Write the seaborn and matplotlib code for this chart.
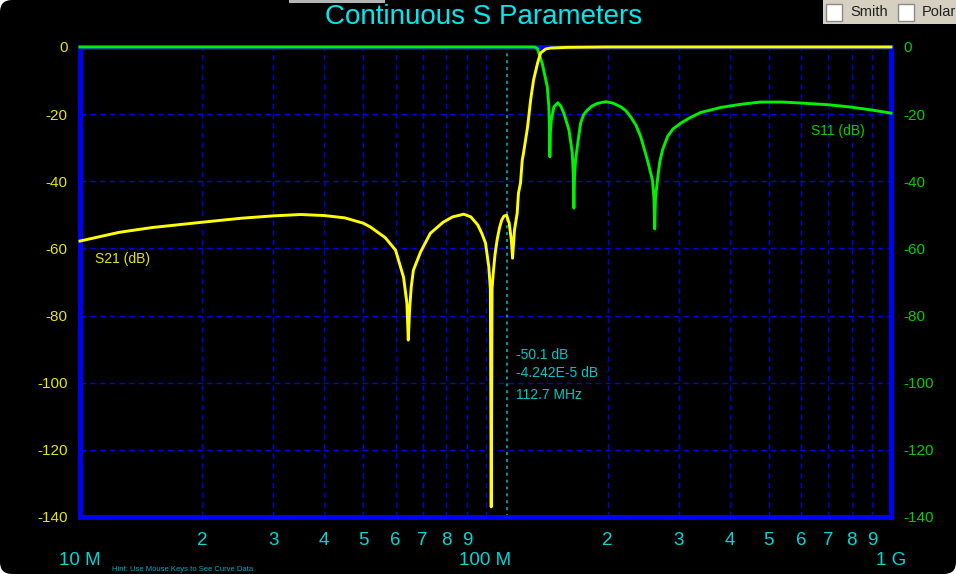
import numpy as np
import pandas as pd
import seaborn as sns
import matplotlib.pyplot as plt
from matplotlib.patches import FancyBboxPatch, Rectangle
from matplotlib.transforms import IdentityTransform

plt.rcParams['font.family'] = ['Liberation Sans', 'DejaVu Sans']
plt.rcParams['axes.unicode_minus'] = False

# colours of the old analyser screen
clr_s21 = '#ffff00'
clr_s11 = '#00f000'
clr_frame = '#0000ff'
clr_cyan = '#00d8d8'

############
# DATA (frequency in MHz, level in dB)
############
s21_freq = [10, 12.5, 15, 20, 25, 30, 35, 40, 45, 50, 52, 56.6, 60, 62.8, 64.0, 64.5, 65.0, 65.6,
            66.4, 69.2, 73.1, 78.6, 83, 88.4, 92, 95.7, 98, 100, 101.9, 102.8, 103.3, 103.8, 104.5,
            105.5, 106.8, 108.2, 109.6, 111, 112.7, 114.4, 115.8, 116.6, 117.9, 119.7, 120.6, 122.0,
            123.2, 124.1, 127.0, 129.2, 131.4, 134.4, 136.7, 140.7, 144.7, 160, 200, 1000]
s21_db = [-57.8, -55.2, -53.8, -52.2, -51.0, -50.3, -49.9, -50.2, -50.9, -52.5, -53.6, -56.8, -60.5,
          -68.6, -76.3, -87.3, -78.0, -71.5, -66.5, -61.0, -55.5, -52.2, -50.6, -49.8, -50.6, -53.0,
          -55.6, -58.4, -65.5, -72.0, -137.0, -72.0, -67.4, -62.0, -57.5, -54.0, -51.6, -50.4, -50.1,
          -52.5, -57.5, -62.9, -54.5, -49.5, -43.5, -40.5, -33.7, -31.6, -23.8, -15.8, -9.8, -4.8,
          -1.8, -0.6, -0.3, -0.1, 0.0, 0.0]

s11_freq = [10, 130, 132.5, 134.2, 138.0, 142.0, 143.3, 143.8, 144.1, 144.6, 145.3, 147.5, 150.8,
            153.5, 156.1, 160.6, 163.7, 164.6, 165.2, 165.8, 166.8, 168.4, 171.6, 174.5, 178.3,
            183, 188.7, 197.9, 206, 215.4, 222, 228.0, 235, 241.4, 250.8, 258.0, 260.3, 261.4,
            262.5, 265.5, 269, 273.2, 281.1, 290, 303.0, 320, 339.5, 380.4, 430, 477.5, 540,
            599.5, 700, 796.5, 900, 1000]
s11_db = [0, 0, -0.05, -0.4, -4.9, -11.8, -17.8, -24.0, -32.7, -25.0, -21.8, -17.8, -16.6, -17.7,
          -19.8, -24.7, -31.6, -38.0, -48.0, -38.0, -33.7, -29.7, -22.7, -20.2, -18.8, -17.6,
          -16.8, -16.3, -16.7, -17.8, -19.0, -20.8, -23.3, -26.7, -33.7, -39.6, -45.0, -54.2,
          -45.0, -39.6, -34.2, -30.7, -26.7, -24.4, -22.7, -21.0, -19.5, -18.0, -17.0, -16.4,
          -16.4, -16.7, -17.2, -17.9, -18.8, -19.7]

x_major = [10, 100, 1000]
x_major_labels = ['10 M', '100 M', '1 G']
x_minor = [m * d for d in (10, 100) for m in range(2, 10)]
x_minor_labels = [str(m) for d in (10, 100) for m in range(2, 10)]
y_ticks = list(range(-140, 1, 20))

cursor_mhz = 112.7
cursor_lines = ['-50.1 dB', '-4.242E-5 dB', '112.7 MHz']

W, H = 956, 574
def fx(px):
    return px / W
def fy(py):
    return 1 - py / H

############
# FIGURE
############
fig = plt.figure(figsize=(W / 100, H / 100), dpi=100, facecolor='white')
fig.add_artist(FancyBboxPatch((0, 0), W, H, boxstyle='round,pad=0,rounding_size=12',
                              transform=IdentityTransform(), facecolor='black',
                              edgecolor='none', zorder=-10))

ax = fig.add_axes([fx(80), 57 / H, 811 / W, 470 / H])
ax.set_facecolor('black')

s21 = pd.DataFrame({'freq': s21_freq, 'db': s21_db})
s11 = pd.DataFrame({'freq': s11_freq, 'db': s11_db})
sns.lineplot(data=s11, x='freq', y='db', ax=ax, color=clr_s11, linewidth=2.1,
             estimator=None, sort=False, clip_on=False, zorder=4)
sns.lineplot(data=s21, x='freq', y='db', ax=ax, color=clr_s21, linewidth=2.1,
             estimator=None, sort=False, clip_on=False, zorder=5)

ax.axvline(cursor_mhz, color='#00c0c0', linestyle=(0, (2, 2.5)), linewidth=1.1, zorder=3)

ax.set_xscale('log')
ax.set_xlim(10, 1000)
ax.set_ylim(-140, 0)
ax.set_xlabel('')
ax.set_ylabel('')

ax.set_xticks(x_major)
ax.set_xticklabels(x_major_labels)
ax.set_xticks(x_minor, minor=True)
ax.set_xticklabels(x_minor_labels, minor=True)
ax.tick_params(axis='x', which='major', length=0, pad=25, labelsize=13.5, labelcolor=clr_cyan)
ax.tick_params(axis='x', which='minor', length=0, pad=11, labelsize=13.5, labelcolor=clr_cyan)
ax.set_yticks(y_ticks)
ax.tick_params(axis='y', length=0, pad=9, labelsize=11, labelcolor='#e6e600')

ax.grid(True, which='both', axis='x', color='#0000e8', linestyle=(0, (4, 3)), linewidth=1)
ax.grid(True, which='major', axis='y', color='#0000e8', linestyle=(0, (4, 3)), linewidth=1)
for s in ax.spines.values():
    s.set_color(clr_frame)
    s.set_linewidth(3.5)
    s.set_zorder(3.5)

ax2 = ax.twinx()
ax2.set_ylim(-140, 0)
ax2.set_yticks(y_ticks)
ax2.tick_params(axis='y', length=0, pad=9, labelsize=11, labelcolor='#00d000')
for s in ax2.spines.values():
    s.set_visible(False)

############
# TEXTS
############
fig.text(fx(484), fy(17), 'Continuous S Parameters', ha='center', va='center',
         fontsize=20, color='#00e8f0')
fig.text(fx(95), fy(259), 'S21 (dB)', ha='left', va='center', fontsize=10, color='#e6e600')
fig.text(fx(811), fy(131), 'S11 (dB)', ha='left', va='center', fontsize=10, color='#00d000')
for txt, py in zip(cursor_lines, [355, 373, 395]):
    fig.text(fx(516), fy(py), txt, ha='left', va='center', fontsize=10, color='#00c8c8')

# status hint squeezed against the bottom edge, clear of the "10 M" label
fig.text(fx(112), fy(573), 'Hint: Use Mouse Keys to See Curve Data', ha='left', va='bottom',
         fontsize=5.5, color='#00a8c8')

# window bits at the top edge
fig.add_artist(Rectangle((289, H - 3), 96, 3, transform=IdentityTransform(),
                         facecolor='#b4b4b4', edgecolor='none'))
fig.add_artist(Rectangle((823, H - 24), W - 823, 24, transform=IdentityTransform(),
                         facecolor='#d6d0c0', edgecolor='none'))
for bx, label in [(826, 'Smith'), (898, 'Polar')]:
    fig.add_artist(Rectangle((bx, H - 21), 16, 17, transform=IdentityTransform(),
                             facecolor='white', edgecolor='#8a8a8a', linewidth=1))
    fig.text(fx(bx + 24), fy(12), label, ha='left', va='center', fontsize=10.5, color='#202020')

fig.savefig('out.png', dpi=100, facecolor=fig.get_facecolor())
